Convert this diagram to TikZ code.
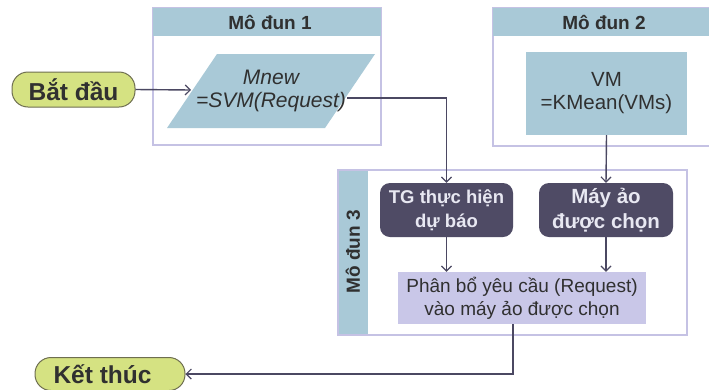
\documentclass[tikz,border=0pt]{standalone}
\usepackage{fontspec}
\setmainfont{Liberation Sans}
\usetikzlibrary{arrows.meta}
\definecolor{hdrblue}{HTML}{A9C9D7}
\definecolor{lavline}{HTML}{C5C2E4}
\definecolor{pbfill}{HTML}{C9C7E8}
\definecolor{darkbox}{HTML}{4F4B65}
\definecolor{startfill}{HTML}{D5E282}
\definecolor{startline}{HTML}{6E6E50}
\definecolor{arrowcol}{HTML}{4B4862}
\definecolor{txt}{HTML}{303030}
\definecolor{lighttxt}{HTML}{E8E8F2}
\tikzset{
  modframe/.style={draw=lavline, line width=1.2pt, fill=white},
  modhdr/.style={fill=hdrblue, draw=none},
  hdrtext/.style={font=\fontsize{19}{21}\selectfont\bfseries, text=txt},
  terminal/.style={draw=startline, line width=1pt, fill=startfill, rounded corners=16pt, font=\fontsize{24.5}{26}\selectfont\bfseries, text=txt, inner sep=0pt},
  darknode/.style={fill=darkbox, rounded corners=10pt, text=lighttxt, align=center, inner sep=0pt, font=\fontsize{18.5}{24}\selectfont\bfseries},
  conn/.style={draw=arrowcol, line width=1.4pt, -{Straight Barb[length=5pt,width=10pt,line width=1.2pt]}},
}
\begin{document}
\begin{tikzpicture}[x=1pt,y=-1pt]
\useasboundingbox (0,0) rectangle (709,389);
% Module 1
\draw[modframe] (153,8) rectangle (381,145);
\fill[modhdr] (153,8) rectangle (381,36);
\node[hdrtext] (h1) at (270,22) {Mô đun 1};
\fill[hdrblue] (217,54) -- (375,54) -- (325,128) -- (167,128) -- cycle;
\node[align=center, text=txt, font=\fontsize{21}{23}\selectfont\itshape] (m1) at (271,91) {Mnew\\=SVM(Request)};
\coordinate (m1in) at (191,90);
\coordinate (m1out) at (347,98);
% Module 2
\draw[modframe] (493,8) rectangle (715,146);
\fill[modhdr] (493,8) rectangle (715,36);
\node[hdrtext] (h2) at (604,22) {Mô đun 2};
\node[fill=hdrblue, minimum width=161pt, minimum height=83pt, inner sep=0pt, align=center, text=txt, font=\fontsize{20.5}{23}\selectfont] (vm) at (606.5,93.5) {VM\\=KMean(VMs)};
% Module 3
\draw[modframe] (338,170) rectangle (687,335);
\fill[modhdr] (338.6,170.6) rectangle (368,334.4);
\node[hdrtext, rotate=90] (h3) at (353,252) {Mô đun 3};
\node[darknode, minimum width=133pt, minimum height=54pt] (tg) at (446.5,210) {TG thực hiện\\dự báo};
\node[darknode, minimum width=134pt, minimum height=54pt, font=\fontsize{20.5}{25}\selectfont\bfseries] (may) at (606,210) {Máy ảo\\được chọn};
\node[fill=pbfill, minimum width=248pt, minimum height=52pt, inner sep=0pt, align=center, text=txt, font=\fontsize{19}{23}\selectfont] (pb) at (522,298) {Phân bổ yêu cầu (Request)\\vào máy ảo được chọn};
% Terminals
\node[terminal, minimum width=123pt, minimum height=35pt] (start) at (73.5,89.5) {Bắt đầu};
\node[terminal, minimum width=150pt, minimum height=33pt] (end) at (110,374) {\hspace{-15pt}Kết thúc};
% Connectors
\draw[conn] (start.east) -- (m1in);
\draw[conn] (m1out) -| (tg.north);
\draw[conn] (vm.south) -- (may.north);
\draw[conn] (tg.south) -- (tg.south |- pb.north);
\draw[conn] (may.south) -- (may.south |- pb.north);
\draw[conn] ([xshift=-9pt]pb.south) |- (end.east);
\end{tikzpicture}
\end{document}
